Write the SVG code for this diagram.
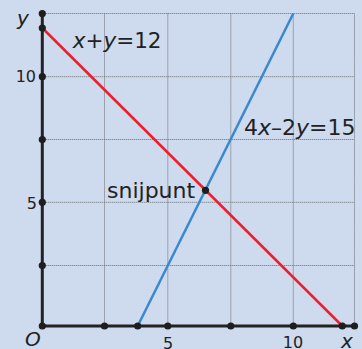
<svg xmlns="http://www.w3.org/2000/svg" width="362" height="349" viewBox="0 0 362 349">
<style>
.grid{stroke:#6b6b6b;stroke-width:1;stroke-dasharray:1 1;fill:none}
.axis{stroke:#222;stroke-width:3;fill:none}
.dot{fill:#1e1e1e}
.lab{font-family:"DejaVu Sans",Verdana,sans-serif;fill:#222}
.num{font-size:16px}
.it{font-style:italic}
</style>
<rect width="362" height="349" fill="#cedaee"/>
<g id="grid">
<line class="grid" x1="104.5" y1="13.5" x2="104.5" y2="326"/>
<line class="grid" x1="167.8" y1="13.5" x2="167.8" y2="326"/>
<line class="grid" x1="230.8" y1="13.5" x2="230.8" y2="326"/>
<line class="grid" x1="293.3" y1="13.5" x2="293.3" y2="326"/>
<line class="grid" x1="354.5" y1="13.5" x2="354.5" y2="326"/>
<line class="grid" x1="42.3" y1="13.5" x2="354.5" y2="13.5"/>
<line class="grid" x1="42.3" y1="76.7" x2="354.5" y2="76.7"/>
<line class="grid" x1="42.3" y1="139.5" x2="354.5" y2="139.5"/>
<line class="grid" x1="42.3" y1="202.3" x2="354.5" y2="202.3"/>
<line class="grid" x1="42.3" y1="265.5" x2="354.5" y2="265.5"/>
</g>
<g id="lines">
<line x1="42.3" y1="28" x2="342.3" y2="326" stroke="#ee1f2b" stroke-width="2.5"/>
<line x1="137.7" y1="326" x2="293.3" y2="13.5" stroke="#3a88d0" stroke-width="2.5"/>
</g>
<g id="axes">
<line class="axis" x1="42.3" y1="13.5" x2="42.3" y2="326"/>
<line class="axis" x1="42.3" y1="326" x2="354.5" y2="326"/>
</g>
<g id="dots">
<circle class="dot" cx="42.3" cy="326" r="3.6"/>
<circle class="dot" cx="104.5" cy="326" r="3.6"/>
<circle class="dot" cx="137.7" cy="326" r="3.6"/>
<circle class="dot" cx="167.8" cy="326" r="3.6"/>
<circle class="dot" cx="230.8" cy="326" r="3.6"/>
<circle class="dot" cx="293.3" cy="326" r="3.6"/>
<circle class="dot" cx="342.3" cy="326" r="3.6"/>
<circle class="dot" cx="354.5" cy="326" r="3.6"/>
<circle class="dot" cx="42.3" cy="13.5" r="3.6"/>
<circle class="dot" cx="42.3" cy="28" r="3.6"/>
<circle class="dot" cx="42.3" cy="76.7" r="3.6"/>
<circle class="dot" cx="42.3" cy="139.5" r="3.6"/>
<circle class="dot" cx="42.3" cy="202.3" r="3.6"/>
<circle class="dot" cx="42.3" cy="265.5" r="3.6"/>
<circle class="dot" cx="205.5" cy="190.3" r="3.6"/>
</g>
<g id="labels">
<text class="lab it" x="17" y="25" font-size="20">y</text>
<text class="lab it" x="341" y="348" font-size="20">x</text>
<text class="lab it" x="25" y="346" font-size="20">O</text>
<text class="lab num" x="36" y="82" text-anchor="end">10</text>
<text class="lab num" x="37" y="209" text-anchor="end">5</text>
<text class="lab num" x="168" y="349" text-anchor="middle">5</text>
<text class="lab num" x="293" y="348" text-anchor="middle">10</text>
<text class="lab" x="72.7" y="48.3" font-size="21.5"><tspan class="it">x</tspan>+<tspan class="it">y</tspan>=12</text>
<text class="lab" x="244" y="135" font-size="22">4<tspan class="it">x</tspan>–2<tspan class="it">y</tspan>=15</text>
<text class="lab" x="107" y="198.3" font-size="22">snijpunt</text>
</g>
</svg>
